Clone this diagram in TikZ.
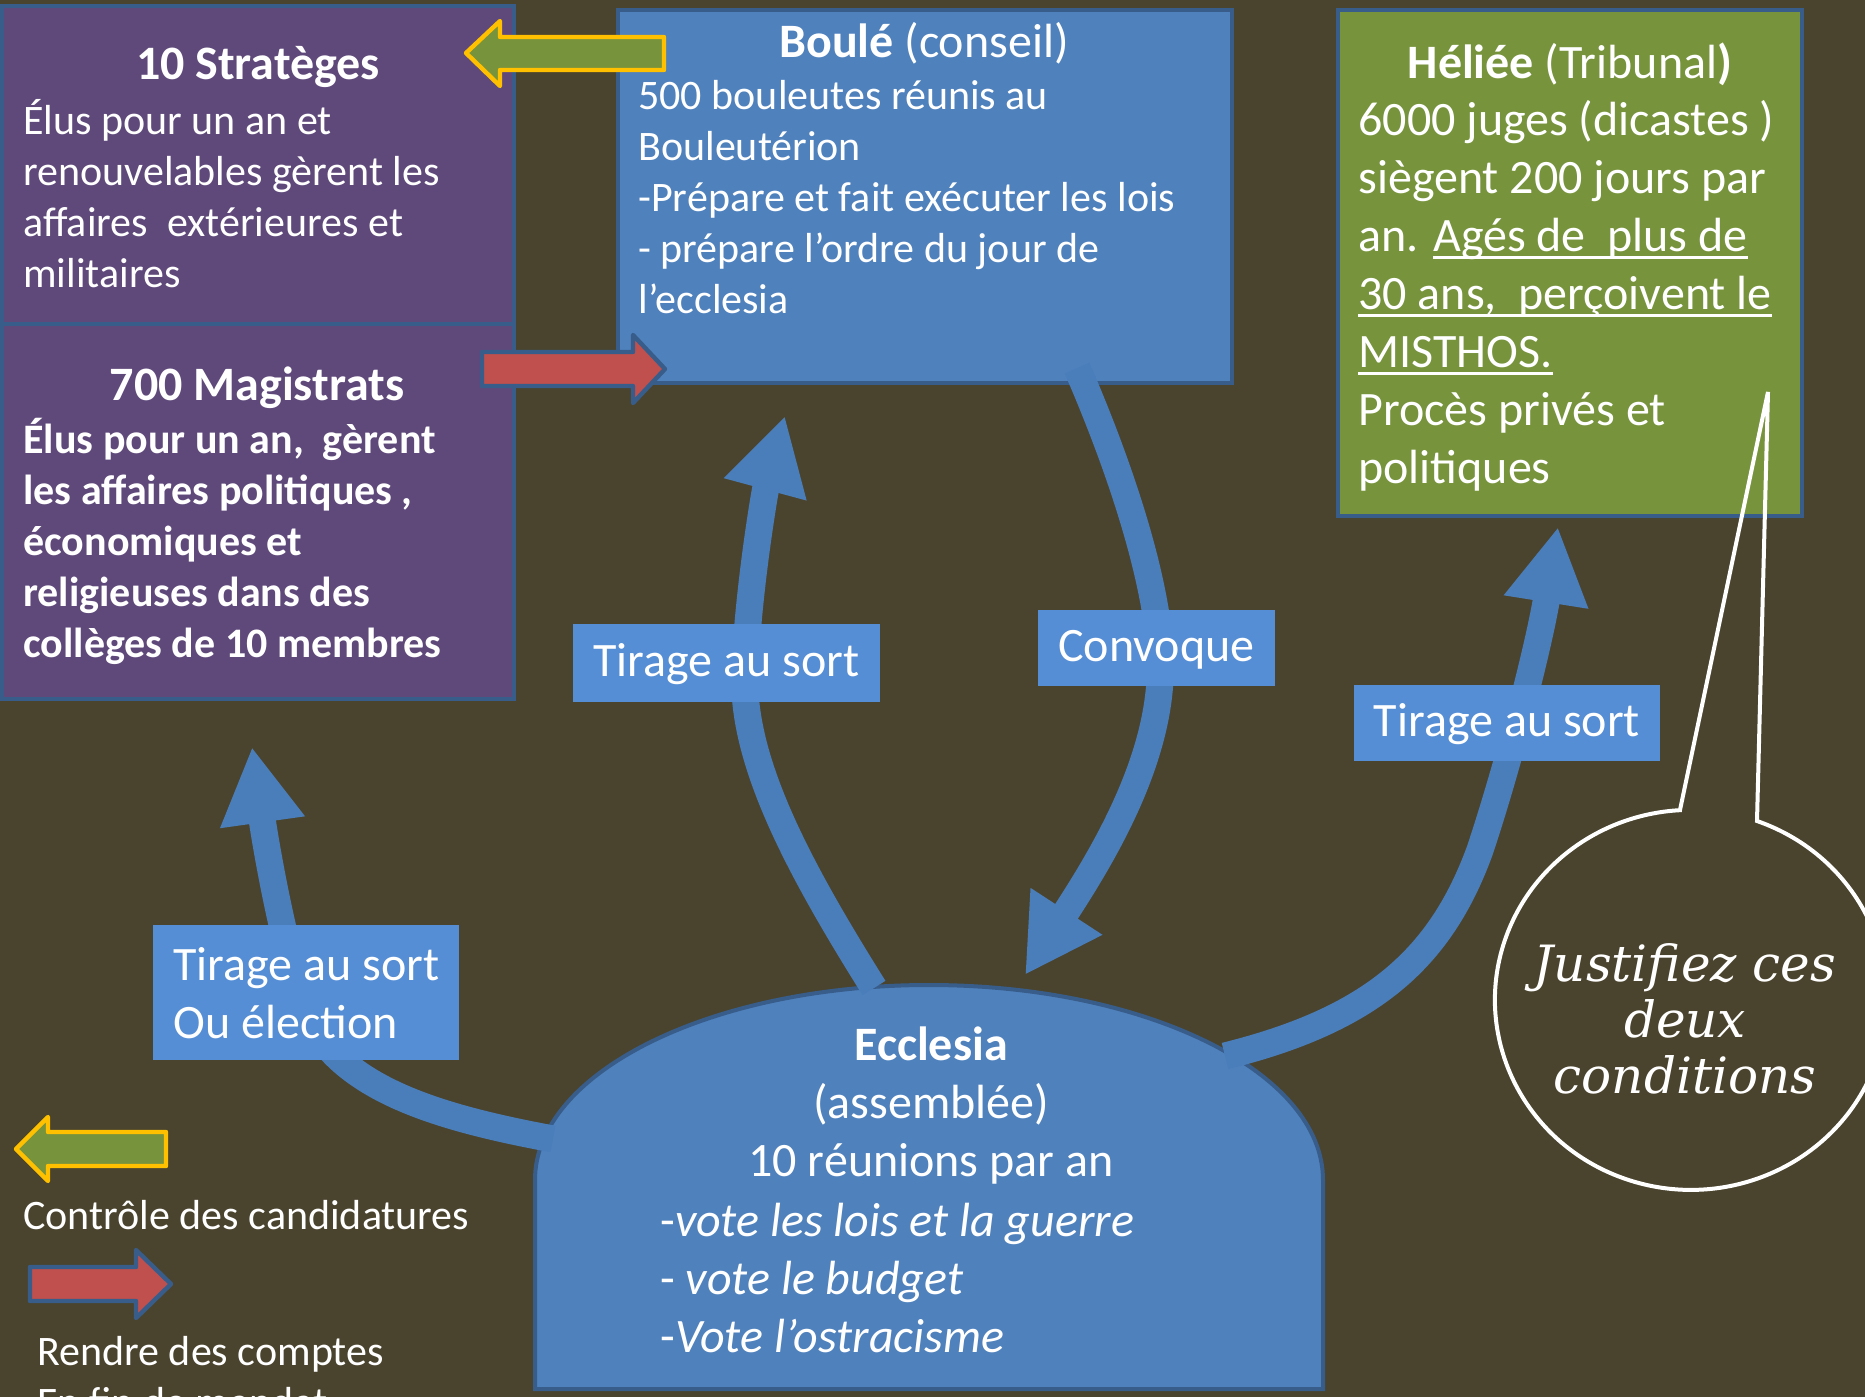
\documentclass[tikz,border=0pt]{standalone}
\usepackage{fontspec}
\setmainfont{Carlito}
\newfontfamily\manuscrit{DejaVu Serif}
\usetikzlibrary{positioning, arrows.meta}
\definecolor{fond}{RGB}{74,68,46}
\definecolor{violetstrat}{HTML}{5F497A}
\definecolor{bordbleu}{HTML}{385D8A}
\definecolor{bleuboule}{HTML}{4F81BD}
\definecolor{vertheliee}{HTML}{77933C}
\definecolor{bleuetiq}{HTML}{558ED5}
\definecolor{bleufleche}{HTML}{4A7EBB}
\definecolor{rougebloc}{HTML}{C0504D}
\definecolor{orbloc}{HTML}{FFC000}
\newcommand{\souligne}[1]{\setbox0=\hbox{#1}\rlap{\rule[-0.15em]{\wd0}{0.065em}}\box0}
\tikzset{
  boite/.style={draw=bordbleu, line width=2pt, inner sep=0pt, outer sep=0pt, anchor=north west},
  titre/.style={text=white, font=\fontsize{24}{29}\selectfont\bfseries, inner sep=0pt},
  texte/.style={text=white, font=\fontsize{21}{25.5}\selectfont, align=left, inner sep=0pt, anchor=west},
  grandtexte/.style={texte, font=\fontsize{24}{29}\selectfont},
  etiquette/.style={fill=bleuetiq, text=white, font=\fontsize{24}{29}\selectfont, inner sep=0pt},
  etiquette1/.style={etiquette, text height=17pt, text depth=4pt},
  fleche/.style={draw=bleufleche, line width=13.5pt, -{Triangle[length=38pt, width=40pt]}},
  blocvert/.style={fill=vertheliee, draw=orbloc, line width=2.2pt, line join=round},
  blocrouge/.style={fill=rougebloc, draw=bordbleu, line width=2.2pt, line join=round},
}
\begin{document}
\begin{tikzpicture}[x=0.5pt, y=-0.5pt]
\useasboundingbox (0,0) rectangle (1865,1397);
\clip (0,0) rectangle (1865,1397);
\fill[fond] (0,0) rectangle (1865,1397);
% les institutions
\node[boite, fill=violetstrat, minimum width=256pt, minimum height=159pt] (strateges) at (2,6) {};
\node[boite, fill=violetstrat, minimum width=256pt, minimum height=187.5pt, below=0pt of strateges] (magistrats) {};
\node[boite, fill=bleuboule, minimum width=307pt, minimum height=186.5pt] (boule) at (618,10) {};
\node[boite, fill=vertheliee, minimum width=232pt, minimum height=253pt] (heliee) at (1338,10) {};
\draw[fill=bleuboule, draw=bordbleu, line width=2pt] (535,1389) -- (535,1180)
  arc[start angle=180, end angle=360, x radius=394, y radius=195] -- (1323,1389) -- cycle;

\node[titre] (titreS) at (258,67) {10 Stratèges};
\node[texte] (texteS) at (23,194) {Élus pour un an et\\renouvelables gèrent les\\affaires\ \ extérieures et\\militaires};
\node[titre] (titreM) at (257,388) {700 Magistrats};
\node[texte, font=\fontsize{21}{25.5}\selectfont\bfseries] (texteM) at (23,541) {Élus pour un an,\ \ gèrent\\les affaires politiques ,\\économiques et\\religieuses dans des\\collèges de 10 membres};
\node[titre, font=\fontsize{24}{29}\selectfont] (titreB) at (924,43) {\textbf{Boulé} (conseil)};
\node[texte] (texteB) at (638,197) {500 bouleutes réunis au\\Bouleutérion\\-Prépare et fait exécuter les lois\\- prépare l’ordre du jour de\\l’ecclesia};
\node[titre, font=\fontsize{24}{29}\selectfont] (titreH) at (1570,64) {\textbf{Héliée} (Tribunal\textbf{)}};
\node[grandtexte] (texteH) at (1358,296) {6000 juges (dicastes )\\siègent 200 jours par\\an. \souligne{Agés de\ \ plus de}\\\souligne{30 ans,\ \ perçoivent le}\\\souligne{MISTHOS.}\\Procès privés et\\politiques};
\node[grandtexte, align=center, anchor=center] (ecclesia) at (931,1106) {\textbf{Ecclesia}\\(assemblée)\\10 réunions par an};
\node[grandtexte] (votes) at (660,1278) {-\textit{vote les lois et la guerre}\\- \textit{vote le budget}\\-\textit{Vote l’ostracisme}};

% fleches courbes
\coordinate (eA) at (874,988);
\coordinate (pA) at (785,416);
\coordinate (bB) at (1077,368);
\coordinate (pB) at (1025,975);
\coordinate (eC) at (1225,1056);
\coordinate (pC) at (1558,527);
\coordinate (eD) at (553,1139);
\coordinate (pD) at (252,747);
\draw[fleche] (eA) .. controls (800,870) and (740,760) .. (745,670) .. controls (748,590) and (765,490) .. (pA);
\draw[fleche] (bB) .. controls (1130,490) and (1165,610) .. (1160,680) .. controls (1155,770) and (1100,860) .. (pB);
\draw[fleche] (eC) .. controls (1370,1020) and (1440,960) .. (1480,850) .. controls (1510,760) and (1540,640) .. (pC);
\draw[fleche] (eD) .. controls (440,1118) and (345,1090) .. (310,1020) .. controls (285,960) and (265,840) .. (pD);

\node[etiquette1, minimum width=153.5pt, minimum height=39pt] (tirageA) at (726.5,663) {Tirage au sort};
\node[etiquette1, minimum width=118.5pt, minimum height=38pt] (convoque) at (1156.5,648) {Convoque};
\node[etiquette1, minimum width=153pt, minimum height=38pt] (tirageC) at (1507,723) {Tirage au sort};
\node[etiquette, minimum height=67.5pt, anchor=north west, align=left, inner xsep=10pt] (tirageD) at (153,925) {Tirage au sort\\Ou élection};

% controle et comptes
\draw[blocvert] (466,53) -- (500,21) -- (500,37) -- (664,37) -- (664,70) -- (500,70) -- (500,86) -- cycle;
\draw[blocrouge] (665,369) -- (633,335) -- (633,352) -- (482,352) -- (482,386) -- (633,386) -- (633,403) -- cycle;

% bulle
\coordinate (bec) at (1768,392);
\draw[white, line width=2pt] (1680,810) -- (bec) -- (1757,821)
  arc[start angle=-70.3, end angle=266.8, x radius=196, y radius=190] -- cycle;
\node[text=white, font=\manuscrit\itshape\fontsize{25}{28}\selectfont, align=center, inner sep=0pt] (justif) at (1685,1019) {Justifiez ces\\deux\\conditions};

% legende
\draw[blocvert] (16,1149) -- (48,1117) -- (48,1132) -- (166,1132) -- (166,1166) -- (48,1166) -- (48,1181) -- cycle;
\node[texte] (controle) at (23,1215) {Contrôle des candidatures};
\draw[blocrouge] (171,1284) -- (136,1250) -- (136,1267) -- (30,1267) -- (30,1301) -- (136,1301) -- (136,1318) -- cycle;
\node[texte] (comptes) at (37,1377) {Rendre des comptes\\En fin de mandat};
\end{tikzpicture}
\end{document}
